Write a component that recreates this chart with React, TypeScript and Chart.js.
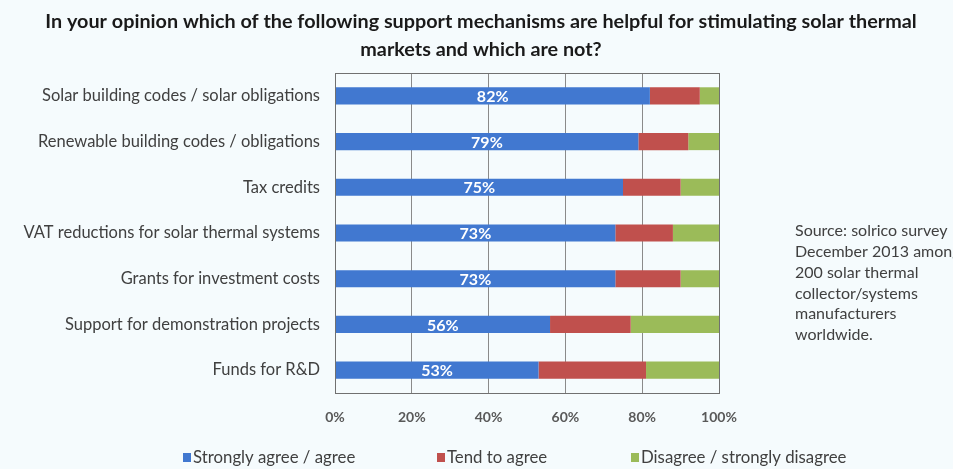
import React, { useEffect, useRef } from "react";
import { Chart, registerables } from "chart.js";

Chart.register(...registerables);

const categories = [
  "Solar building codes / solar obligations",
  "Renewable building codes / obligations",
  "Tax credits",
  "VAT reductions for solar thermal systems",
  "Grants for investment costs",
  "Support for demonstration projects",
  "Funds for R&D",
];
const stronglyAgree = [82, 79, 75, 73, 73, 56, 53];
const tendToAgree = [13, 13, 15, 15, 17, 21, 28];
const disagree = [5, 8, 10, 12, 10, 23, 19];
const seriesNames = ["Strongly agree / agree", "Tend to agree", "Disagree / strongly disagree"];
const seriesColors = ["#4178d0", "#c0504d", "#9bbb59"];
const xTicks = [0, 20, 40, 60, 80, 100];
const titleLines = [
  "In your opinion which of the following support mechanisms are helpful for stimulating solar thermal",
  "markets and which are not?",
];
const sourceLines = [
  "Source: solrico survey",
  "December 2013 among",
  "200 solar thermal",
  "collector/systems",
  "manufacturers",
  "worldwide.",
];

const FONT = "Lato, 'Open Sans', sans-serif";
const BG = "#f5fbfd";

const extrasPlugin = {
  id: "extras",
  afterDraw(chart: any) {
    const ctx = chart.ctx;
    const ca = chart.chartArea;
    ctx.save();
    // plot border
    ctx.strokeStyle = "#707070";
    ctx.lineWidth = 1;
    ctx.strokeRect(Math.round(ca.left) + 0.5, Math.round(ca.top) + 0.5, Math.round(ca.right - ca.left), Math.round(ca.bottom - ca.top));

    // title
    ctx.fillStyle = "#1a1a1a";
    ctx.font = `bold 19.8px ${FONT}`;
    ctx.textAlign = "center";
    ctx.textBaseline = "middle";
    titleLines.forEach((line, i) => {
      ctx.fillText(line, 481, 22 + i * 28);
    });

    // value labels on first series
    const meta = chart.getDatasetMeta(0);
    ctx.fillStyle = "#ffffff";
    ctx.font = `bold 16px ${FONT}`;
    ctx.textAlign = "center";
    ctx.textBaseline = "middle";
    meta.data.forEach((el: any, i: number) => {
      const v = chart.data.datasets[0].data[i];
      ctx.fillText(v + "%", (el.x + el.base) / 2, el.y + 1);
    });

    // source note
    ctx.fillStyle = "#404040";
    ctx.font = `16px ${FONT}`;
    ctx.textAlign = "left";
    sourceLines.forEach((line, i) => {
      ctx.fillText(line, 795, 231 + i * 20.8);
    });

    // legend
    const starts = [183, 437, 631];
    ctx.font = `16.8px ${FONT}`;
    chart.data.datasets.forEach((ds: any, i: number) => {
      const x = starts[i];
      const y = 457;
      ctx.fillStyle = ds.backgroundColor;
      ctx.fillRect(x, y - 4, 8, 9);
      ctx.fillStyle = "#404040";
      ctx.fillText(ds.label, x + 10, y + 1);
    });
    ctx.restore();
  },
};

export default function App() {
  const ref = useRef<HTMLCanvasElement | null>(null);
  useEffect(() => {
    if (!ref.current) return;
    const data = [stronglyAgree, tendToAgree, disagree];
    const chart = new Chart(ref.current, {
      type: "bar",
      data: {
        labels: categories,
        datasets: data.map((d, i) => ({
          label: seriesNames[i],
          data: d,
          backgroundColor: seriesColors[i],
          borderWidth: 0,
          barPercentage: 0.75,
          categoryPercentage: 0.5,
        })),
      },
      plugins: [extrasPlugin],
      options: {
        indexAxis: "y",
        animation: false,
        responsive: false,
        maintainAspectRatio: false,
        layout: { padding: { left: 0, right: 234, top: 73, bottom: 36 } },
        plugins: {
          legend: { display: false },
          tooltip: { enabled: false },
          title: { display: false },
        },
        scales: {
          x: {
            stacked: true,
            min: 0,
            max: 100,
            afterBuildTicks: (scale: any) => {
              scale.ticks = xTicks.map((v) => ({ value: v }));
            },
            afterFit: (scale: any) => {
              scale.height = 40;
            },
            ticks: {
              callback: (v: any) => v + "%",
              color: "#595959",
              font: { family: FONT, size: 14, weight: "bold" },
              padding: 16,
            },
            grid: { color: "#8a8a8a", drawTicks: false, lineWidth: 1 },
            border: { display: true, color: "#707070" },
          },
          y: {
            stacked: true,
            afterFit: (scale: any) => {
              scale.width = 335;
            },
            ticks: {
              color: "#404040",
              font: { family: FONT, size: 16.5 },
              padding: 15,
            },
            grid: { display: false, drawTicks: false },
            border: { display: true, color: "#707070" },
          },
        },
      },
    } as any);
    return () => chart.destroy();
  }, []);
  return (
    <div style={{ position: "fixed", left: 0, top: 0, width: 953, height: 469, background: BG, overflow: "hidden" }}>
      <canvas ref={ref} width={953} height={469} style={{ display: "block", width: 953, height: 469 }} />
    </div>
  );
}
